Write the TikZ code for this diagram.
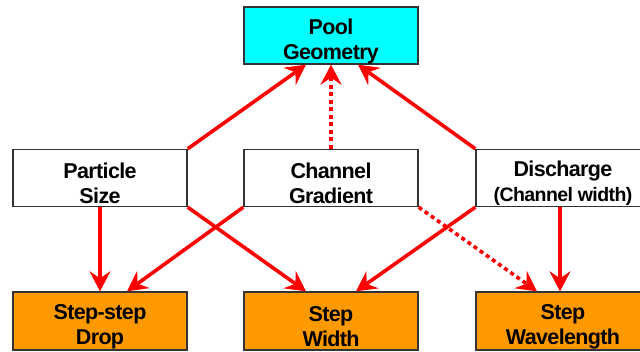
\documentclass[tikz,border=0pt]{standalone}
\usepackage{fontspec}
\setmainfont{Liberation Sans}[LetterSpace=-3]
\usetikzlibrary{arrows.meta}
\definecolor{poolcyan}{HTML}{00FFFF}
\definecolor{steporange}{HTML}{FF9900}
\definecolor{boxline}{HTML}{333333}
\tikzset{
  factor/.style={draw=boxline, line width=1.4pt, rectangle, minimum width=174pt,
    minimum height=57pt, inner sep=0pt},
  boxtext/.style={align=center, inner sep=0pt, yshift=-5.5pt,
    font=\fontsize{21.5}{25}\selectfont\bfseries},
  goal/.style={factor, fill=poolcyan},
  result/.style={factor, fill=steporange, minimum height=58pt},
  cause/.style={factor, fill=white},
  link/.style={draw=red, line width=3.6pt,
    -{Stealth[length=20pt, width=21pt, inset=7pt]}},
  weaklink/.style={link, dash pattern=on 4pt off 3.5pt}
}
\begin{document}
\begin{tikzpicture}[x=1pt, y=-1pt]
  \useasboundingbox (0,0) rectangle (640,351);

  % top: pool geometry
  \node[goal, label={[boxtext]center:Pool\\Geometry}] (pool) at (331,35.5) {};

  % middle row: controlling factors
  \node[cause, label={[boxtext]center:Particle\\Size}] (particle) at (100,178) {};
  \node[cause, label={[boxtext]center:Channel\\Gradient}] (gradient) at (331,178) {};
  \node[cause, label={[boxtext]center:Discharge\\{\fontsize{19.5}{25}\selectfont (Channel width)}}]
    (discharge) at (563,178) {};

  % bottom row: step properties
  \node[result, label={[boxtext]center:Step-step\\Drop}] (drop) at (100,321) {};
  \node[result, label={[boxtext]center:Step\\Width}] (width) at (331,321) {};
  \node[result, label={[boxtext]center:Step\\Wavelength}] (wave) at (563,321) {};

  % links up to the pool geometry
  \draw[link] (particle.north east) -- ([xshift=-25pt]pool.south);
  \draw[weaklink] (gradient.north) -- (pool.south);
  \draw[link] (discharge.north west) -- ([xshift=27pt]pool.south);

  % links down to the step properties
  \draw[link] (particle.south) -- (drop.north);
  \draw[link] (particle.south east) -- ([xshift=-25pt]width.north);
  \draw[link] (gradient.south west) -- ([xshift=27pt]drop.north);
  \draw[weaklink] (gradient.south east) -- ([xshift=-26pt]wave.north);
  \draw[link] (discharge.south west) -- ([xshift=25pt]width.north);
  \draw[link] ([xshift=-3pt]discharge.south) -- ([xshift=-3pt]wave.north);
\end{tikzpicture}
\end{document}
